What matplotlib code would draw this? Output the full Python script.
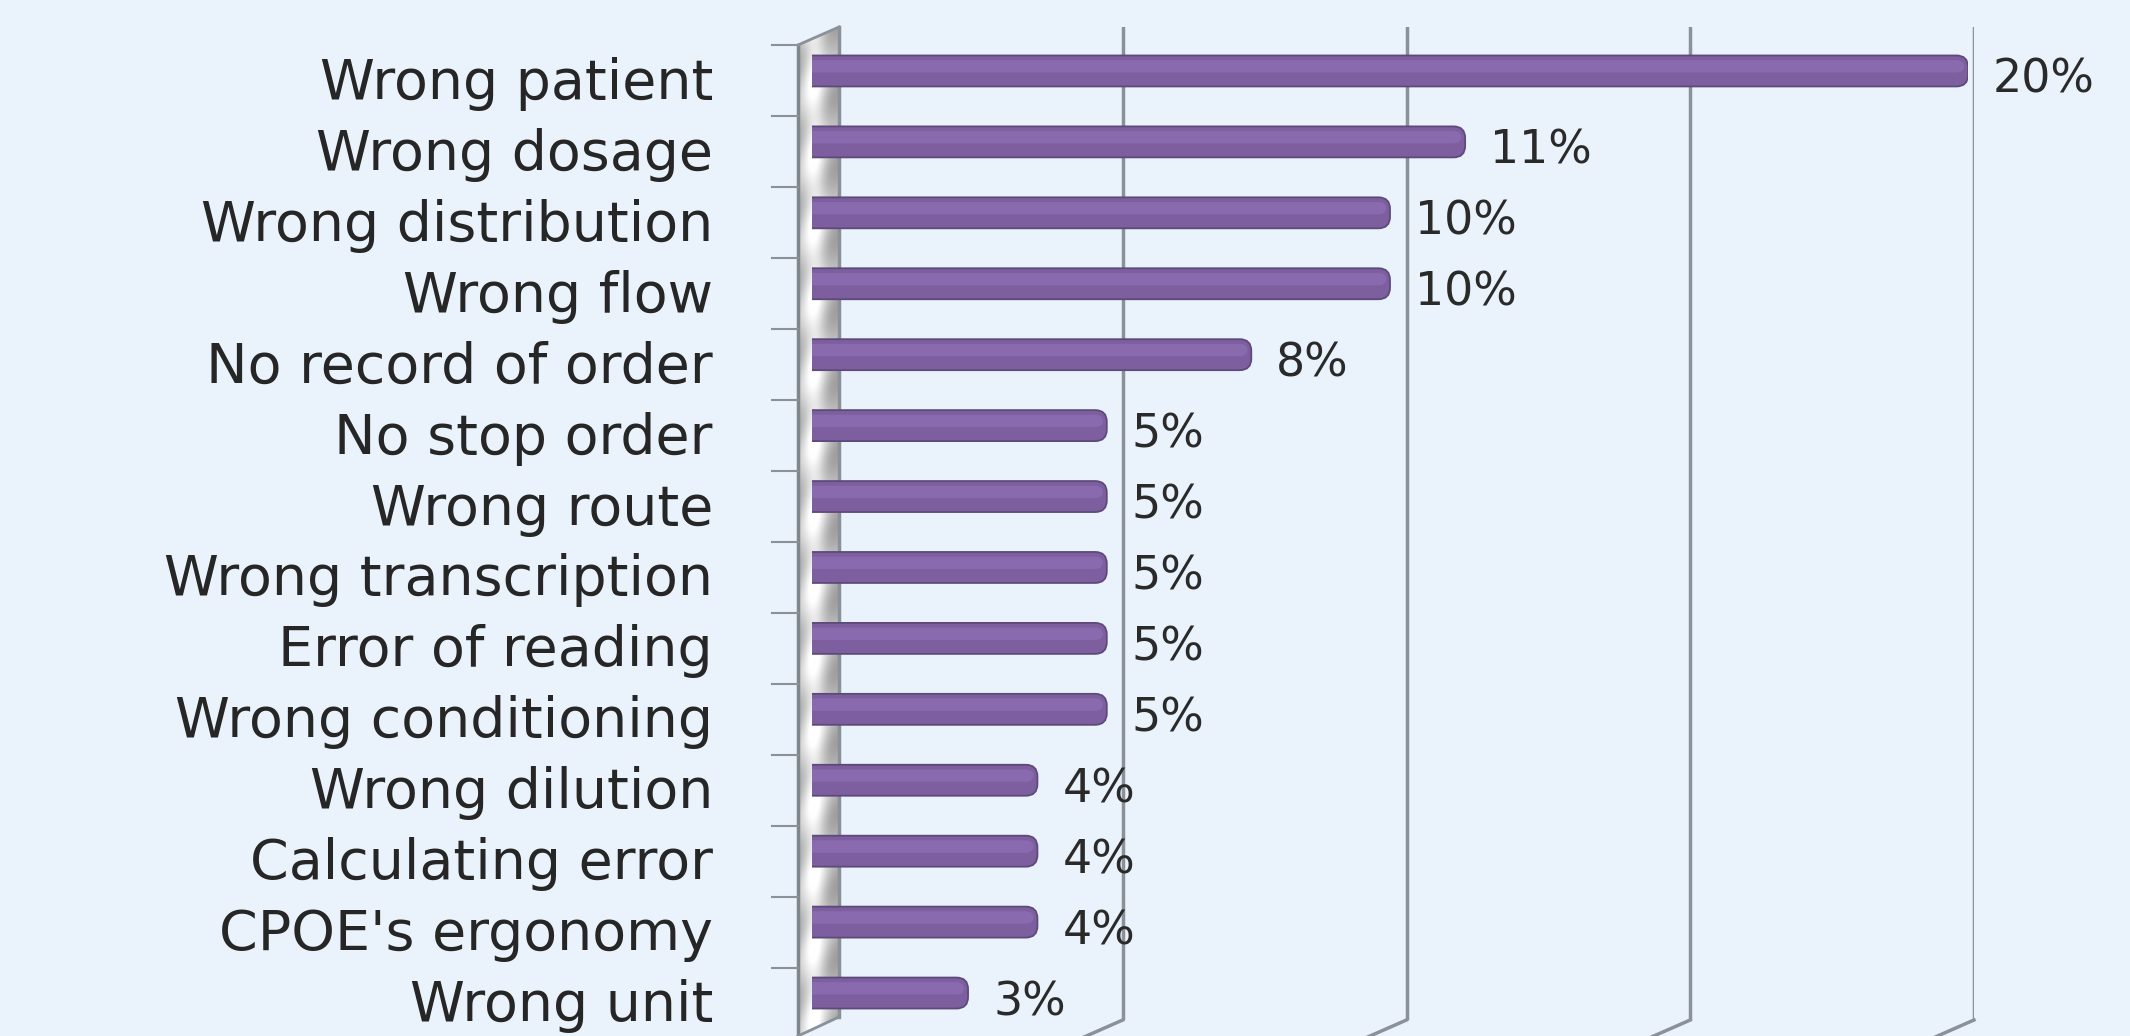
import numpy as np
import matplotlib
matplotlib.use("Agg")
import matplotlib.pyplot as plt
from matplotlib.patches import FancyBboxPatch, Polygon
from matplotlib.transforms import offset_copy

# data (bar lengths, labels are the rounded values)
categories = ["Wrong patient", "Wrong dosage", "Wrong distribution", "Wrong flow",
              "No record of order", "No stop order", "Wrong route",
              "Wrong transcription", "Error of reading", "Wrong conditioning",
              "Wrong dilution", "Calculating error", "CPOE's ergonomy", "Wrong unit"]
values = [20.0, 11.3, 10.0, 10.0, 7.6, 5.1, 5.1, 5.1, 5.1, 5.1, 3.9, 3.9, 3.9, 2.7]
grid_ticks = [5, 10, 15, 20]

W, H = 2130, 1036
bg = "#eaf3fc"
grid_col = "#8a9198"
n = len(categories)

fig = plt.figure(figsize=(W / 100, H / 100), dpi=100, facecolor=bg)


def box(x0, x1, top, bottom):
    # figure-fraction rect from pixel edges (top-left origin)
    return [x0 / W, 1 - bottom / H, (x1 - x0) / W, (bottom - top) / H]


# back wall with vertical gridlines
ax = fig.add_axes(box(839, 1974, 27, 1020), zorder=1)
ax.set_xlim(0, 20)
ax.set_ylim(n - 0.5, -0.5)
ax.patch.set_alpha(0)
for s in ax.spines.values():
    s.set_visible(False)
ax.set_xticks(grid_ticks)
ax.set_yticks([])
ax.tick_params(length=0, labelbottom=False)
ax.grid(axis="x", color=grid_col, lw=2.5)

# overlay in pixel coords for the 3D wall / floor edges
ov = fig.add_axes([0, 0, 1, 1], zorder=2)
ov.set_xlim(0, W)
ov.set_ylim(H, 0)
ov.axis("off")
ov.patch.set_alpha(0)

# left wall with a silver gradient
wall = Polygon([(798, 45), (839, 27), (839, 1017), (798, 1036)], closed=True,
               facecolor="none", edgecolor="none")
ov.add_patch(wall)
xs = np.linspace(0, 1, 60)
ys = np.linspace(0, 1, 600)
X, Y = np.meshgrid(xs, ys)
prof = 0.68 + 0.3 * np.exp(-((X - 0.4) / 0.3) ** 2)
stripes = 0.07 * np.cos(2 * np.pi * (Y * 14 + X * 0.6))
img = np.clip(prof + stripes, 0, 1)
im = ov.imshow(img, cmap="gray", vmin=0, vmax=1, extent=(798, 839, 1036, 27),
               aspect="auto", zorder=1)
im.set_clip_path(wall)
ov.plot([798, 798], [45, 1036], color="#7f868c", lw=2.5, zorder=2)
ov.plot([839, 839], [27, 1017], color=grid_col, lw=2.5, zorder=2)
ov.plot([798, 839], [45, 27], color=grid_col, lw=2, zorder=2)
ov.plot([839, 798], [1017, 1036], color=grid_col, lw=2, zorder=2)

# category tick marks on the wall front edge
for k in range(n):
    y = 45 + 71 * k
    ov.plot([772, 798], [y, y], color=grid_col, lw=1.5, zorder=2)

# floor edges below each gridline
for g in grid_ticks:
    gx = ax.transData.transform((g, 0))[0]
    ov.plot([gx, gx - 41], [1020, 1038], color=grid_col, lw=2.5, zorder=2)

# bars, in front of the wall
axb = fig.add_axes(box(812, 1968, 35.5, 1028.5), zorder=3)
axb.set_xlim(0, 20)
axb.set_ylim(n - 0.5, -0.5)
axb.axis("off")
axb.patch.set_alpha(0)

bar_h = 31 / 71
bars = axb.barh(range(n), values, height=bar_h, color="#7c5e9e")
r = 0.2
asp = 57.8 / 71
for b in bars:
    x, y, w, h = b.get_x(), b.get_y(), b.get_width(), b.get_height()
    b.set_visible(False)
    body = FancyBboxPatch((x - 0.4, y), w + 0.4, h,
                          boxstyle=f"round,pad=0,rounding_size={r}",
                          mutation_aspect=asp, facecolor="#7d5f9f",
                          edgecolor="#5e4a7a", lw=1.3)
    axb.add_patch(body)
    hl = FancyBboxPatch((x - 0.4, y + 0.15 * h), w + 0.4 - 0.06, 0.4 * h,
                        boxstyle=f"round,pad=0,rounding_size={r * 0.7}",
                        mutation_aspect=asp, facecolor="#8a6aae",
                        edgecolor="none")
    axb.add_patch(hl)

# value labels
val_tr = offset_copy(axb.transData, fig, x=25, y=-22, units="dots")
for i, v in enumerate(values):
    axb.text(v, i, f"{round(v)}%", transform=val_tr, ha="left", va="baseline",
             fontsize=33, color="#2a2a2a")

# category labels
cat_tr = offset_copy(axb.transData, fig, x=-99, y=-28, units="dots")
for i, c in enumerate(categories):
    axb.text(0, i, c, transform=cat_tr, ha="right", va="baseline",
             fontsize=40, color="#262626")

fig.savefig("out.png", dpi=100, facecolor=bg)
